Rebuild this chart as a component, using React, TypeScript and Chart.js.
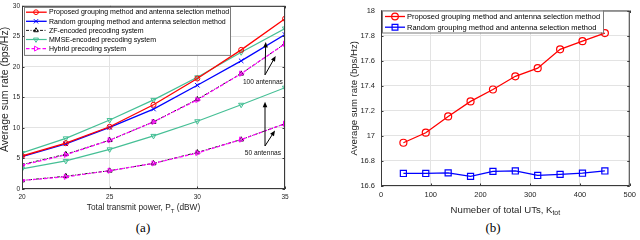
import React, { useEffect, useRef } from 'react';
import { Chart, registerables } from 'chart.js';

Chart.register(...registerables);

const SANS = "'Liberation Sans', Arial, Helvetica, sans-serif";

// ---------- Data (a) ----------
const powerDbw = [20, 22.5, 25, 27.5, 30, 32.5, 35];
const proposedA = [5.4, 7.5, 10.2, 13.8, 18.1, 22.8, 27.9];
const randomA = [5.3, 7.4, 10.1, 13.1, 17.0, 21.0, 25.3];
const zf100 = [4.0, 5.7, 8.0, 11.0, 14.7, 18.9, 23.8];
const mmse100 = [5.9, 8.3, 11.3, 14.6, 18.3, 22.4, 26.3];
const hybrid100 = [3.9, 5.6, 8.0, 11.0, 14.6, 18.9, 23.8];
const zf50 = [1.4, 2.1, 3.0, 4.2, 6.0, 8.1, 10.7];
const mmse50 = [3.3, 4.6, 6.5, 8.7, 11.1, 13.8, 16.6];
const hybrid50 = [1.4, 2.0, 3.0, 4.2, 5.9, 8.1, 10.7];

// ---------- Data (b) ----------
const totalUts = [45, 90, 135, 180, 225, 270, 315, 360, 405, 450];
const proposedB = [16.945, 17.025, 17.155, 17.275, 17.37, 17.475, 17.54, 17.69, 17.755, 17.82];
const randomB = [16.7, 16.7, 16.705, 16.677, 16.717, 16.72, 16.684, 16.693, 16.702, 16.72];

// ---------- Labels ----------
const labelProposed = 'Proposed grouping method and antenna selection method';
const labelRandom = 'Random grouping method and antenna selection method';
const labelZF = 'ZF-encoded precoding system';
const labelMMSE = 'MMSE-encoded precoding system';
const labelHybrid = 'Hybrid precoding system';
const yTitleText = 'Average sum rate (bps/Hz)';
const xTitleA = [{ text: 'Total transmit power, P' }, { text: 'T', sub: true }, { text: ' (dBW)' }];
const xTitleB = [{ text: 'Numeber of total UTs, K' }, { text: 'tot', sub: true }];
const captionA = '(a)';
const captionB = '(b)';

// annotations in data units of chart (a)
const note100 = { text: '100 antennas', at: [33.74, 17.5], base: [33.86, 18.7], tips: [[33.9, 24.1], [34.47, 21.8]] };
const note50 = { text: '50 antennas', at: [33.74, 5.9], base: [33.86, 7.05], tips: [[33.86, 14.3], [34.43, 9.6]] };

const RED = '#ff0000';
const BLUE = '#0000ff';
const TEAL = '#45bf95';
const MAGENTA = '#ff00ff';
const BLACK = '#000000';

function pts(xs: number[], ys: number[]) {
  return xs.map((x, i) => ({ x, y: ys[i] }));
}

function drawMarker(ctx: CanvasRenderingContext2D, style: string, x: number, y: number, r: number, rotDeg: number, color: string, lw: number) {
  ctx.save();
  ctx.setLineDash([]);
  ctx.strokeStyle = color;
  ctx.lineWidth = lw;
  ctx.beginPath();
  let rad = (rotDeg * Math.PI) / 180;
  if (style === 'circle') {
    ctx.arc(x, y, r, 0, Math.PI * 2);
  } else if (style === 'crossRot') {
    const d = r * Math.SQRT1_2;
    ctx.moveTo(x - d, y - d); ctx.lineTo(x + d, y + d);
    ctx.moveTo(x - d, y + d); ctx.lineTo(x + d, y - d);
  } else if (style === 'rect') {
    const s = r * Math.SQRT1_2;
    ctx.rect(x - s, y - s, 2 * s, 2 * s);
  } else if (style === 'triangle') {
    ctx.moveTo(x + Math.sin(rad) * r, y - Math.cos(rad) * r);
    rad += (2 * Math.PI) / 3;
    ctx.lineTo(x + Math.sin(rad) * r, y - Math.cos(rad) * r);
    rad += (2 * Math.PI) / 3;
    ctx.lineTo(x + Math.sin(rad) * r, y - Math.cos(rad) * r);
    ctx.closePath();
  }
  ctx.stroke();
  ctx.restore();
}

type Part = { text: string; sub?: boolean };
type Note = { text: string; at: number[]; base: number[]; tips: number[][] };
interface DecorCfg {
  legend: { dx: number; dy: number; w: number; h: number; row0: number; rowH: number; s0: number; s1: number; m: number; tx: number; font: number; items: number[]; markerScale: number };
  xTitle: { parts: Part[]; size: number; cx: number; cy: number };
  yTitle: { size: number; cx: number; cy: number };
  tickFont: number;
  notes: Note[];
  noteFont: number;
}

function makeDecor(cfg: DecorCfg) {
  return {
    id: 'decor',
    afterDraw(chart: any) {
      const ctx: CanvasRenderingContext2D = chart.ctx;
      const { left, right, top, bottom } = chart.chartArea;
      const xs = chart.scales.x;
      const ys = chart.scales.y;
      ctx.save();
      // frame
      ctx.strokeStyle = '#3a3a3a';
      ctx.lineWidth = 1;
      ctx.setLineDash([]);
      ctx.strokeRect(left + 0.5, top + 0.5, right - left - 1, bottom - top - 1);
      // inward ticks
      ctx.beginPath();
      const tl = 2.5;
      xs.ticks.forEach((t: any) => {
        const px = Math.round(xs.getPixelForValue(t.value)) + 0.5;
        ctx.moveTo(px, bottom); ctx.lineTo(px, bottom - tl);
        ctx.moveTo(px, top); ctx.lineTo(px, top + tl);
      });
      ys.ticks.forEach((t: any) => {
        const py = Math.round(ys.getPixelForValue(t.value)) + 0.5;
        ctx.moveTo(left, py); ctx.lineTo(left + tl, py);
        ctx.moveTo(right, py); ctx.lineTo(right - tl, py);
      });
      ctx.stroke();

      // annotations
      cfg.notes.forEach((n) => {
        const bx = xs.getPixelForValue(n.base[0]);
        const by = ys.getPixelForValue(n.base[1]);
        n.tips.forEach((tp) => {
          const tx = xs.getPixelForValue(tp[0]);
          const ty = ys.getPixelForValue(tp[1]);
          const ang = Math.atan2(ty - by, tx - bx);
          const hl = 5.5, hw = 2.3;
          ctx.strokeStyle = BLACK;
          ctx.lineWidth = 1;
          ctx.beginPath();
          ctx.moveTo(bx, by);
          ctx.lineTo(tx - Math.cos(ang) * hl * 0.8, ty - Math.sin(ang) * hl * 0.8);
          ctx.stroke();
          ctx.fillStyle = BLACK;
          ctx.beginPath();
          ctx.moveTo(tx, ty);
          ctx.lineTo(tx - Math.cos(ang) * hl - Math.sin(ang) * hw, ty - Math.sin(ang) * hl + Math.cos(ang) * hw);
          ctx.lineTo(tx - Math.cos(ang) * hl + Math.sin(ang) * hw, ty - Math.sin(ang) * hl - Math.cos(ang) * hw);
          ctx.closePath();
          ctx.fill();
        });
        ctx.fillStyle = '#111';
        ctx.font = `${cfg.noteFont}px ${SANS}`;
        ctx.textAlign = 'center';
        ctx.textBaseline = 'middle';
        ctx.fillText(n.text, xs.getPixelForValue(n.at[0]), ys.getPixelForValue(n.at[1]));
      });

      // legend
      const L = cfg.legend;
      const lx = left + L.dx;
      const ly = top + L.dy;
      ctx.fillStyle = '#ffffff';
      ctx.fillRect(lx, ly, L.w, L.h);
      ctx.strokeStyle = '#7a7a7a';
      ctx.lineWidth = 1;
      ctx.strokeRect(lx + 0.5, ly + 0.5, L.w, L.h);
      L.items.forEach((di, k) => {
        const ds = chart.data.datasets[di];
        const y = ly + L.row0 + k * L.rowH;
        ctx.strokeStyle = ds.borderColor;
        ctx.lineWidth = ds.borderWidth;
        ctx.setLineDash(ds.borderDash || []);
        ctx.beginPath();
        ctx.moveTo(lx + L.s0, y);
        ctx.lineTo(lx + L.s1, y);
        ctx.stroke();
        drawMarker(ctx, ds.pointStyle, lx + L.m, y, ds.pointRadius * L.markerScale, ds.pointRotation || 0, ds.borderColor, ds.pointBorderWidth);
        ctx.fillStyle = '#000';
        ctx.font = `${L.font}px ${SANS}`;
        ctx.textAlign = 'left';
        ctx.textBaseline = 'middle';
        ctx.fillText(ds.label, lx + L.tx, y + 0.3);
      });

      // x title with subscript
      const X = cfg.xTitle;
      ctx.fillStyle = '#262626';
      ctx.textBaseline = 'middle';
      ctx.textAlign = 'left';
      const widths = X.parts.map((p) => {
        ctx.font = `${p.sub ? X.size * 0.72 : X.size}px ${SANS}`;
        return ctx.measureText(p.text).width;
      });
      const total = widths.reduce((a, b) => a + b, 0);
      let cx = (left + right) / 2 + X.cx - total / 2;
      X.parts.forEach((p, i) => {
        ctx.font = `${p.sub ? X.size * 0.72 : X.size}px ${SANS}`;
        ctx.fillText(p.text, cx, X.cy + (p.sub ? X.size * 0.35 : 0));
        cx += widths[i];
      });

      // y title
      const Y = cfg.yTitle;
      ctx.save();
      ctx.translate(Y.cx, (top + bottom) / 2 + Y.cy);
      ctx.rotate(-Math.PI / 2);
      ctx.font = `${Y.size}px ${SANS}`;
      ctx.textAlign = 'center';
      ctx.textBaseline = 'middle';
      ctx.fillText(yTitleText, 0, 0);
      ctx.restore();

      ctx.restore();
    },
  };
}

function fmtTick(v: any) {
  return String(parseFloat(Number(v).toFixed(2)));
}

function axisOpts(min: number, max: number, step: number, fontSize: number, padding: number, fit: (s: any) => void) {
  return {
    type: 'linear' as const,
    min,
    max,
    border: { display: false },
    grid: { color: '#e3e3e3', drawTicks: false, lineWidth: 1 },
    ticks: {
      stepSize: step,
      autoSkip: false,
      maxRotation: 0,
      padding,
      color: '#262626',
      font: { family: SANS, size: fontSize },
      callback: fmtTick,
    },
    afterFit: fit,
  };
}

function lineDs(label: string, data: any[], color: string, style: string, radius: number, extra: any = {}) {
  return {
    label,
    data,
    borderColor: color,
    backgroundColor: color,
    borderWidth: 1.2,
    pointStyle: style,
    pointRadius: radius,
    pointBorderColor: color,
    pointBackgroundColor: 'rgba(0,0,0,0)',
    pointBorderWidth: 1,
    tension: 0,
    fill: false,
    ...extra,
  };
}

function leftConfig(): any {
  const zfDash = [3, 1.5, 1, 1.5];
  const hyDash = [3.5, 2];
  return {
    type: 'line',
    data: {
      datasets: [
        lineDs(labelProposed, pts(powerDbw, proposedA), RED, 'circle', 2.5, { order: 1, borderWidth: 1.3 }),
        lineDs(labelRandom, pts(powerDbw, randomA), BLUE, 'crossRot', 3.2, { order: 2, borderWidth: 1.3 }),
        lineDs(labelZF, pts(powerDbw, zf100), BLACK, 'triangle', 2.8, { order: 6, borderWidth: 0.9, borderDash: zfDash }),
        lineDs(labelMMSE, pts(powerDbw, mmse100), TEAL, 'triangle', 3, { order: 3, pointRotation: 180 }),
        lineDs(labelHybrid, pts(powerDbw, hybrid100), MAGENTA, 'triangle', 3, { order: 4, pointRotation: 90, borderDash: hyDash }),
        lineDs(labelZF, pts(powerDbw, zf50), BLACK, 'triangle', 2.8, { order: 7, borderWidth: 0.9, borderDash: zfDash }),
        lineDs(labelMMSE, pts(powerDbw, mmse50), TEAL, 'triangle', 3, { order: 3, pointRotation: 180 }),
        lineDs(labelHybrid, pts(powerDbw, hybrid50), MAGENTA, 'triangle', 3, { order: 5, pointRotation: 90, borderDash: hyDash }),
      ],
    },
    options: {
      responsive: false,
      animation: false,
      devicePixelRatio: 1,
      layout: { padding: { left: 0, right: 35, top: 3, bottom: 0 } },
      plugins: { legend: { display: false }, tooltip: { enabled: false }, title: { display: false } },
      scales: {
        x: axisOpts(20, 35, 5, 6.5, 4, (s: any) => { s.height = 26; }),
        y: axisOpts(0, 30, 5, 6.5, 2, (s: any) => { s.width = 22; }),
      },
    },
    plugins: [
      makeDecor({
        legend: { dx: 2, dy: 1, w: 206, h: 48, row0: 5.3, rowH: 9.1, s0: 2, s1: 22.7, m: 12, tx: 25, font: 7, items: [0, 1, 2, 3, 4], markerScale: 0.95 },
        xTitle: { parts: xTitleA, size: 8.3, cx: -10, cy: 208 },
        yTitle: { size: 10.5, cx: 5, cy: -8 },
        tickFont: 6.5,
        notes: [note100, note50],
        noteFont: 6.6,
      }),
    ],
  };
}

function rightConfig(): any {
  return {
    type: 'line',
    data: {
      datasets: [
        lineDs(labelProposed, pts(totalUts, proposedB), RED, 'circle', 3.5, { borderWidth: 1.3, pointBorderWidth: 1.2 }),
        lineDs(labelRandom, pts(totalUts, randomB), BLUE, 'rect', 4.3, { borderWidth: 1.3, pointBorderWidth: 1.2 }),
      ],
    },
    options: {
      responsive: false,
      animation: false,
      devicePixelRatio: 1,
      layout: { padding: { left: 0, right: 8, top: 4, bottom: 0 } },
      plugins: { legend: { display: false }, tooltip: { enabled: false }, title: { display: false } },
      scales: {
        x: axisOpts(0, 500, 100, 7.5, 4, (s: any) => { s.height = 29; }),
        y: axisOpts(16.6, 18, 0.2, 7.5, 6, (s: any) => { s.width = 61; }),
      },
    },
    plugins: [
      makeDecor({
        legend: { dx: 1, dy: 0, w: 221, h: 22, row0: 6, rowH: 10.7, s0: 3, s1: 23, m: 13, tx: 25, font: 7.5, items: [0, 1], markerScale: 0.95 },
        xTitle: { parts: xTitleB, size: 9.6, cx: 0, cy: 210 },
        yTitle: { size: 9.6, cx: 34, cy: 0 },
        tickFont: 7.5,
        notes: [],
        noteFont: 7,
      }),
    ],
  };
}

export default function App() {
  const leftRef = useRef<HTMLCanvasElement>(null);
  const rightRef = useRef<HTMLCanvasElement>(null);
  useEffect(() => {
    const a = new Chart(leftRef.current as HTMLCanvasElement, leftConfig());
    const b = new Chart(rightRef.current as HTMLCanvasElement, rightConfig());
    return () => {
      a.destroy();
      b.destroy();
    };
  }, []);
  const cap: React.CSSProperties = {
    position: 'absolute',
    top: 220,
    width: 100,
    textAlign: 'center',
    fontFamily: "'Liberation Serif', 'Times New Roman', serif",
    fontSize: 13,
    lineHeight: '16px',
    color: '#000',
  };
  return (
    <div style={{ position: 'fixed', left: 0, top: 0, width: 640, height: 240, background: '#fff', overflow: 'hidden' }}>
      <canvas ref={leftRef} width={320} height={215} style={{ position: 'absolute', left: 0, top: 0 }} />
      <canvas ref={rightRef} width={320} height={215} style={{ position: 'absolute', left: 320, top: 0 }} />
      <div style={{ ...cap, left: 93 }}>{captionA}</div>
      <div style={{ ...cap, left: 443 }}>{captionB}</div>
    </div>
  );
}
